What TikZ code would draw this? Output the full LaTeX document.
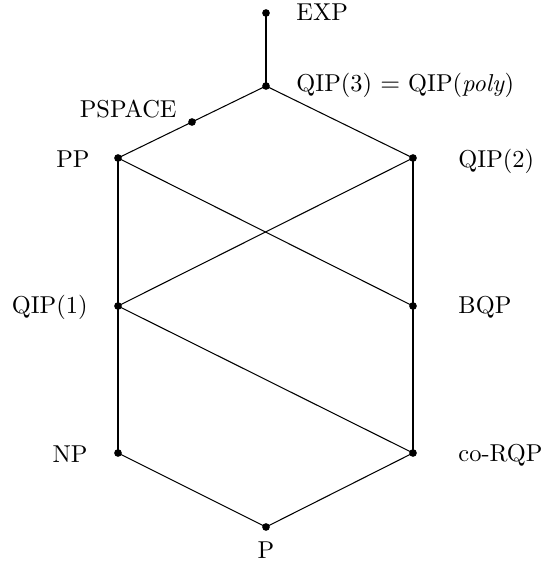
\documentclass[tikz,border=0pt]{standalone}
\begin{document}
\begin{tikzpicture}[x=0.43pt,y=-0.43pt,
  dot/.style={circle,fill=black,inner sep=0pt,minimum size=3.3pt},
  lab/.style={inner sep=0pt,font=\fontsize{10.5}{12}\selectfont},
  edge/.style={line width=0.45pt}]
\useasboundingbox (0,0) rectangle (558,564);
% points
\node[dot] (exp) at (266,13) {};
\node[dot] (qip3) at (266,86) {};
\node[dot] (pspace) at (192,122) {};
\node[dot] (pp) at (118,158) {};
\node[dot] (qip2) at (413,158) {};
\node[dot] (qip1) at (118,306) {};
\node[dot] (bqp) at (413,306) {};
\node[dot] (np) at (118,453) {};
\node[dot] (corqp) at (413,453) {};
\node[dot] (p) at (266,527) {};
% labels
\node[lab,anchor=base west] (lexp) at (296,20) {EXP};
\node[lab,anchor=base west] (lqip3) at (296,91) {QIP(3) $=$ QIP(\textit{poly})};
\node[lab,anchor=base east] (lpspace) at (177,117) {PSPACE};
\node[lab,anchor=base east] (lpp) at (90,167) {PP};
\node[lab,anchor=base west] (lqip2) at (458,167) {QIP(2)};
\node[lab,anchor=base east] (lqip1) at (88,313) {QIP(1)};
\node[lab,anchor=base west] (lbqp) at (458,313) {BQP};
\node[lab,anchor=base east] (lnp) at (88,462) {NP};
\node[lab,anchor=base west] (lcorqp) at (458,461) {co-RQP};
\node[lab,anchor=base] (lp) at (266,558) {P};
% edges
\draw[edge] (exp.center) -- (qip3.center);
\draw[edge] (qip3.center) -- (pspace.center) -- (pp.center);
\draw[edge] (qip3.center) -- (qip2.center);
\draw[edge] (pp.center) -- (qip1.center);
\draw[edge] (pp.center) -- (bqp.center);
\draw[edge] (qip2.center) -- (qip1.center);
\draw[edge] (qip2.center) -- (bqp.center);
\draw[edge] (qip1.center) -- (np.center);
\draw[edge] (qip1.center) -- (corqp.center);
\draw[edge] (bqp.center) -- (corqp.center);
\draw[edge] (np.center) -- (p.center);
\draw[edge] (corqp.center) -- (p.center);
\end{tikzpicture}
\end{document}
